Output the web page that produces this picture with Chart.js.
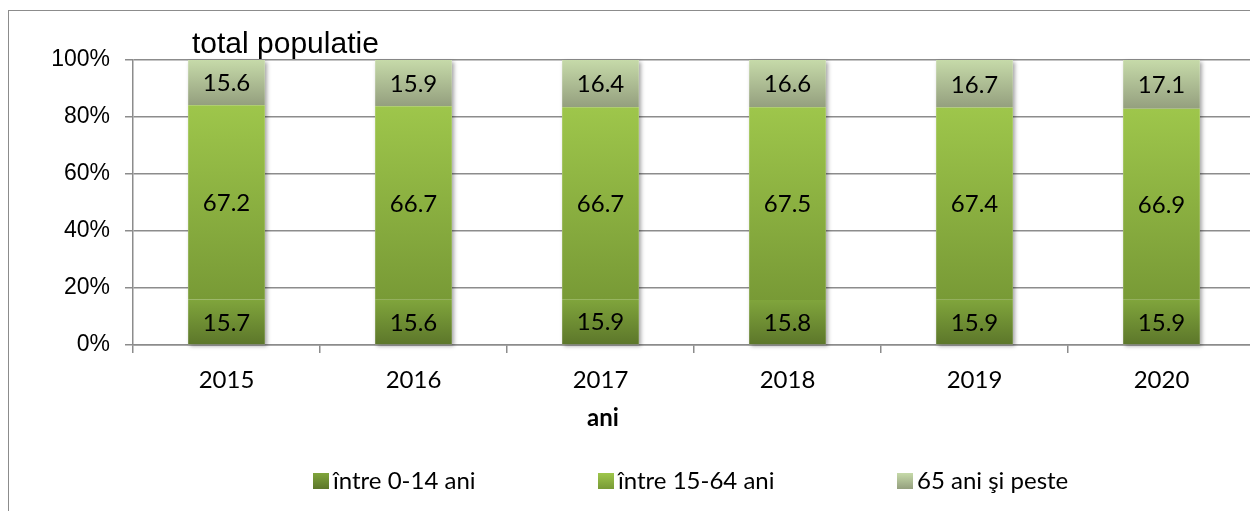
<!DOCTYPE html>
<html lang="ro">
<head>
<meta charset="UTF-8">
<title>total populatie</title>
<script src="https://cdn.jsdelivr.net/npm/chart.js"></script>
<style>
  html, body { margin: 0; padding: 0; background: #fff; overflow: hidden; }
  #frame { position: absolute; left: 8px; top: 10px; width: 1300px; height: 600px; border: 1px solid #8c8c8c; }
  #wrap { position: absolute; left: 0; top: 0; width: 1265px; height: 511px; }
</style>
</head>
<body>
<div id="frame"></div>
<div id="wrap"><canvas id="popChart" width="1265" height="511"></canvas></div>
<script>
const years = ['2015', '2016', '2017', '2018', '2019', '2020'];
const age0to14 = [15.7, 15.6, 15.9, 15.8, 15.9, 15.9];
const age15to64 = [67.2, 66.7, 66.7, 67.5, 67.4, 66.9];
const age65plus = [15.6, 15.9, 16.4, 16.6, 16.7, 17.1];
const seriesNames = ['între 0-14 ani', 'între 15-64 ani', '65 ani şi peste'];
const chartTitle = 'total populatie';
const xTitle = 'ani';

// gradient colours per series (top, bottom)
const seriesColors = [
    ['#80a53c', '#5c762a'],
    ['#9ec64b', '#789a36'],
    ['#c6daa9', '#949f7e']
];

// 100% stacked: every year is scaled to its own total
const rawSeries = [age0to14, age15to64, age65plus];
const totals = years.map((y, i) => rawSeries.reduce((s, arr) => s + arr[i], 0));
const pctSeries = rawSeries.map(arr => arr.map((v, i) => v / totals[i] * 100));

function segmentGradient(di) {
    return function(context) {
        const chart = context.chart;
        const yScale = chart.scales.y;
        if (!chart.chartArea || !yScale || context.dataIndex === undefined) return seriesColors[di][1];
        const i = context.dataIndex;
        let start = 0;
        for (let k = 0; k < di; k++) start += pctSeries[k][i];
        const end = start + pctSeries[di][i];
        const yTop = yScale.getPixelForValue(end);
        const yBot = yScale.getPixelForValue(start);
        const g = chart.ctx.createLinearGradient(0, yTop, 0, yBot);
        g.addColorStop(0, seriesColors[di][0]);
        g.addColorStop(1, seriesColors[di][1]);
        return g;
    };
}

// soft shadow behind each whole stacked column
const columnShadow = {
    id: 'columnShadow',
    beforeDatasetsDraw(chart) {
        const ctx = chart.ctx;
        const first = chart.getDatasetMeta(0).data;
        const last = chart.getDatasetMeta(chart.data.datasets.length - 1).data;
        ctx.save();
        ctx.shadowColor = 'rgba(0,0,0,0.35)';
        ctx.shadowBlur = 4;
        ctx.shadowOffsetX = 2;
        ctx.shadowOffsetY = 2;
        ctx.fillStyle = '#fff';
        first.forEach((bar, i) => {
            const top = last[i].y;
            const w = bar.width;
            ctx.fillRect(bar.x - w / 2, top, w, bar.base - top);
        });
        ctx.restore();
    }
};

const segmentLabels = {
    id: 'segmentLabels',
    afterDatasetsDraw(chart) {
        const ctx = chart.ctx;
        ctx.save();
        ctx.font = '24px Lato';
        ctx.fillStyle = '#000';
        ctx.textAlign = 'center';
        ctx.textBaseline = 'middle';
        chart.data.datasets.forEach((ds, di) => {
            chart.getDatasetMeta(di).data.forEach((bar, i) => {
                ctx.fillText(rawSeries[di][i].toFixed(1), bar.x, (bar.y + bar.base) / 2 + 1);
            });
        });
        ctx.restore();
    }
};

const extraText = {
    id: 'extraText',
    afterDraw(chart) {
        const ctx = chart.ctx;
        ctx.save();
        ctx.fillStyle = '#000';
        // chart title
        ctx.font = '30px "Liberation Sans"';
        ctx.textAlign = 'left';
        ctx.textBaseline = 'alphabetic';
        ctx.fillText(chartTitle, 192, 53);
        // axis title
        ctx.font = 'bold 24px Lato';
        ctx.textAlign = 'center';
        ctx.textBaseline = 'middle';
        ctx.fillText(xTitle, 603, 418);
        // legend
        const legendX = [313, 598, 897];
        ctx.font = '24px Lato';
        ctx.textAlign = 'left';
        seriesNames.forEach((name, di) => {
            const x = legendX[di];
            const g = ctx.createLinearGradient(0, 473, 0, 489);
            g.addColorStop(0, seriesColors[di][0]);
            g.addColorStop(1, seriesColors[di][1]);
            ctx.fillStyle = g;
            ctx.fillRect(x, 473, 16, 16);
            ctx.fillStyle = '#000';
            ctx.fillText(name, x + 20, 481);
        });
        ctx.restore();
    }
};

const gridColor = '#8c8c8c';

new Chart(document.getElementById('popChart'), {
    type: 'bar',
    data: {
        labels: years,
        datasets: seriesNames.map((name, di) => ({
            label: name,
            data: pctSeries[di],
            backgroundColor: segmentGradient(di),
            borderWidth: 0,
            barPercentage: 0.41,
            categoryPercentage: 1.0
        }))
    },
    options: {
        responsive: false,
        animation: false,
        devicePixelRatio: 1,
        events: [],
        layout: { padding: { top: 60, right: 10, bottom: 0, left: 0 } },
        scales: {
            x: {
                stacked: true,
                grid: { drawOnChartArea: false, tickLength: 8, color: gridColor, lineWidth: 1.5 },
                border: { color: gridColor, width: 1.5 },
                ticks: { color: '#000', font: { family: 'Lato', size: 24 }, padding: 13, maxRotation: 0 },
                afterFit(scale) { scale.height = 166; }
            },
            y: {
                stacked: true,
                min: 0,
                max: 100,
                grid: { tickLength: 8, color: gridColor, lineWidth: 1.5 },
                border: { color: gridColor, width: 1.5 },
                ticks: {
                    stepSize: 20,
                    color: '#000',
                    font: { family: 'Liberation Sans', size: 23 },
                    padding: 15,
                    callback: v => v + '%'
                },
                afterFit(scale) { scale.width = 133; }
            }
        },
        plugins: {
            legend: { display: false },
            title: { display: false },
            tooltip: { enabled: false }
        }
    },
    plugins: [columnShadow, segmentLabels, extraText]
});
</script>
</body>
</html>
